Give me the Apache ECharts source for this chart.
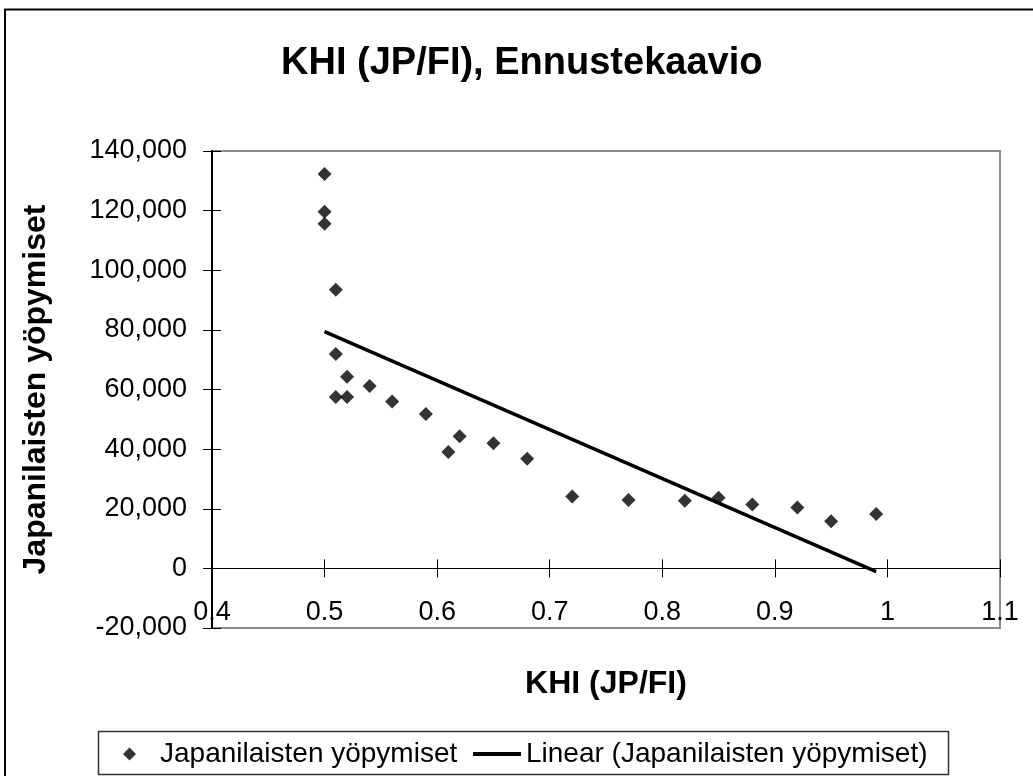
<!DOCTYPE html>
<html>
<head>
<meta charset="utf-8">
<script src="https://cdn.jsdelivr.net/npm/echarts@6/dist/echarts.min.js"></script>
<style>
html,body{margin:0;padding:0;background:#fff;}
#chart{width:1033px;height:776px;}
</style>
</head>
<body>
<div id="chart"></div>
<script>
// KHI (JP/FI) ratio vs. Japanese overnight stays
const khi = [0.50, 0.50, 0.50, 0.51, 0.51, 0.51, 0.52, 0.52, 0.54, 0.56, 0.59, 0.61, 0.62,
             0.65, 0.68, 0.72, 0.77, 0.82, 0.85, 0.88, 0.92, 0.95, 0.99];
const stays = [132300, 119600, 115600, 93500, 71900, 57500, 64300, 57500, 61200, 56000, 51800, 39000, 44300,
               42000, 36800, 24100, 22900, 22700, 23700, 21400, 20400, 15800, 18200];
// linear trend line, end points
const trendX = [0.50, 0.99];
const trendY = [79400, -1100];

const seriesName = 'Japanilaisten yöpymiset';
const trendName = 'Linear (Japanilaisten yöpymiset)';
const font = '"Liberation Sans", Arial, sans-serif';

const points = khi.map((x, i) => [x, stays[i]]);
const trend = trendX.map((x, i) => [x, trendY[i]]);

const chart = echarts.init(document.getElementById('chart'));

const xBase = {
  type: 'value', min: 0.4, max: 1.1, interval: 0.1, position: 'bottom',
  axisLine: {onZero: true, lineStyle: {color: '#000', width: 1}},
  splitLine: {show: false}
};
const yBase = {
  type: 'value', min: -20000, max: 140000, interval: 20000, position: 'left',
  axisLine: {show: true, lineStyle: {color: '#000', width: 2}},
  splitLine: {show: false}
};

chart.setOption({
  animation: false,
  textStyle: {fontFamily: font},
  title: {
    text: 'KHI (JP/FI), Ennustekaavio',
    left: 281, top: 45, padding: 0,
    textStyle: {fontFamily: font, fontSize: 38, fontWeight: 'bold', color: '#000'}
  },
  grid: {left: 212, right: 33, top: 151, bottom: 148, show: true, borderColor: '#8c8c8c', borderWidth: 2},
  legend: [{
    left: 123, top: 740, padding: 0,
    itemWidth: 13, itemHeight: 13,
    data: [{name: seriesName, icon: 'diamond'}],
    textStyle: {fontFamily: font, fontSize: 28, color: '#000', padding: [0, 0, 0, 19]}
  }, {
    left: 473, top: 740, padding: 0,
    itemWidth: 48, itemHeight: 4,
    data: [{name: trendName, icon: 'rect'}],
    itemStyle: {color: '#000'},
    textStyle: {fontFamily: font, fontSize: 28, color: '#000'}
  }],
  xAxis: [Object.assign({}, xBase, {
    name: 'KHI (JP/FI)', nameLocation: 'middle', nameGap: 40,
    nameTextStyle: {fontFamily: font, fontSize: 32, fontWeight: 'bold', color: '#000'},
    axisTick: {show: true, inside: false, length: 9, lineStyle: {color: '#000'}},
    axisLabel: {margin: -29, fontFamily: font, fontSize: 27, color: '#000'}
  }), Object.assign({}, xBase, {
    axisTick: {show: true, inside: true, length: 9, lineStyle: {color: '#000'}},
    axisLabel: {show: false}
  })],
  yAxis: [Object.assign({}, yBase, {
    name: 'Japanilaisten yöpymiset', nameLocation: 'middle', nameGap: 160,
    nameTextStyle: {fontFamily: font, fontSize: 32, fontWeight: 'bold', color: '#000'},
    axisTick: {show: true, inside: false, length: 9, lineStyle: {color: '#000'}},
    axisLabel: {margin: 25, fontFamily: font, fontSize: 27, color: '#000',
      formatter: v => v.toLocaleString('en-US')}
  }), Object.assign({}, yBase, {
    axisTick: {show: true, inside: true, length: 9, lineStyle: {color: '#000'}},
    axisLabel: {show: false}
  })],
  series: [{
    name: seriesName,
    type: 'scatter',
    symbol: 'diamond',
    symbolSize: 14,
    itemStyle: {color: '#000'},
    data: points,
    z: 3
  }, {
    name: trendName,
    type: 'line',
    symbol: 'none',
    lineStyle: {color: '#000', width: 3.5},
    itemStyle: {color: '#000'},
    data: trend,
    z: 2
  }],
  graphic: [{
    type: 'polyline',
    shape: {points: [[5, 776], [5, 9.5], [1033, 9.5]]},
    style: {stroke: '#000', lineWidth: 2, fill: null},
    silent: true
  }, {
    type: 'rect',
    shape: {x: 98.5, y: 731.5, width: 850, height: 43},
    style: {stroke: '#333', lineWidth: 1.5, fill: null},
    silent: true
  }]
});
</script>
</body>
</html>
